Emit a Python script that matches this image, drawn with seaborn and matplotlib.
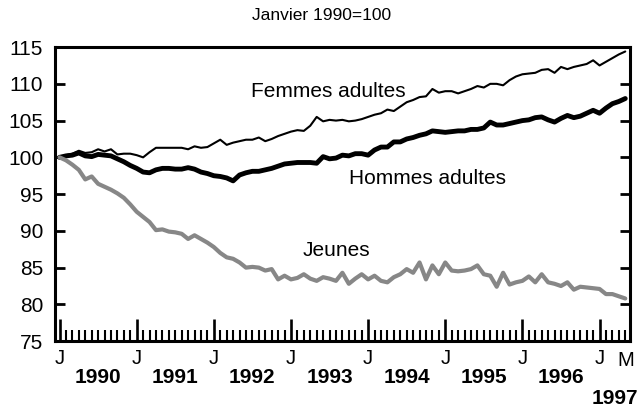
import numpy as np
import pandas as pd
import matplotlib
matplotlib.use("Agg")
import matplotlib.pyplot as plt
import seaborn as sns

# Monthly index, Jan 1990 = 100 (Jan 1990 .. May 1997)
femmes = [100.0, 100.3, 100.5, 100.9, 100.6, 100.7, 101.1, 100.8, 101.1, 100.4, 100.5, 100.5,
          100.3, 100.0, 100.7, 101.3, 101.3, 101.3, 101.3, 101.3, 101.1, 101.5, 101.3, 101.4,
          101.9, 102.4, 101.7, 102.0, 102.2, 102.4, 102.4, 102.7, 102.2, 102.5, 102.9, 103.2,
          103.5, 103.7, 103.6, 104.3, 105.5, 104.9, 105.1, 105.0, 105.1, 104.9, 105.0, 105.2,
          105.5, 105.8, 106.0, 106.5, 106.3, 106.9, 107.5, 107.8, 108.2, 108.3, 109.3, 108.8,
          109.0, 109.0, 108.7, 109.0, 109.3, 109.7, 109.5, 110.0, 110.0, 109.8, 110.5, 111.0,
          111.3, 111.4, 111.5, 111.9, 112.0, 111.5, 112.3, 112.0, 112.3, 112.5, 112.7, 113.2,
          112.5, 113.0, 113.5, 114.0, 114.4]
hommes = [100.0, 100.2, 100.3, 100.6, 100.2, 100.1, 100.4, 100.3, 100.2, 99.8, 99.4, 98.9,
          98.5, 98.0, 97.9, 98.3, 98.5, 98.5, 98.4, 98.4, 98.6, 98.4, 98.0, 97.8,
          97.5, 97.4, 97.2, 96.8, 97.6, 97.9, 98.1, 98.1, 98.3, 98.5, 98.8, 99.1,
          99.2, 99.3, 99.3, 99.3, 99.2, 100.1, 99.8, 99.9, 100.3, 100.2, 100.5, 100.5,
          100.3, 101.0, 101.4, 101.4, 102.1, 102.1, 102.5, 102.7, 103.0, 103.2, 103.6, 103.5,
          103.4, 103.5, 103.6, 103.6, 103.8, 103.8, 104.0, 104.8, 104.4, 104.4, 104.6, 104.8,
          105.0, 105.1, 105.4, 105.5, 105.1, 104.8, 105.3, 105.7, 105.4, 105.6, 106.0, 106.4,
          106.0, 106.7, 107.3, 107.6, 108.0]
jeunes = [100.0, 99.6, 99.0, 98.3, 97.0, 97.4, 96.4, 96.0, 95.6, 95.1, 94.5, 93.6,
          92.6, 91.9, 91.2, 90.1, 90.2, 89.9, 89.8, 89.6, 88.9, 89.4, 88.9, 88.4,
          87.8, 87.0, 86.4, 86.2, 85.7, 85.0, 85.1, 85.0, 84.6, 84.8, 83.4, 83.9,
          83.4, 83.6, 84.1, 83.5, 83.2, 83.7, 83.5, 83.2, 84.3, 82.8, 83.5, 84.1,
          83.4, 83.9, 83.2, 83.0, 83.7, 84.1, 84.8, 84.3, 85.7, 83.4, 85.3, 84.1,
          85.7, 84.6, 84.5, 84.6, 84.8, 85.3, 84.1, 83.9, 82.4, 84.3, 82.7, 83.0,
          83.2, 83.8, 83.0, 84.1, 83.0, 82.8, 82.5, 83.0, 82.0, 82.4, 82.3, 82.2,
          82.1, 81.4, 81.4, 81.1, 80.8]
years = ["1990", "1991", "1992", "1993", "1994", "1995", "1996"]

months = np.arange(len(femmes))

sns.set_style("white")
plt.rcParams["font.family"] = ["Liberation Sans", "DejaVu Sans"]
plt.rcParams["text.color"] = "black"
plt.rcParams["xtick.color"] = "black"
plt.rcParams["ytick.color"] = "black"

fig = plt.figure(figsize=(6.4, 4.13), dpi=100)
ax = fig.add_axes([0.086, 0.174, 0.898, 0.712])

sns.lineplot(x=months, y=femmes, ax=ax, color="black", linewidth=1.5)
sns.lineplot(x=months, y=hommes, ax=ax, color="black", linewidth=3.5)
sns.lineplot(x=months, y=jeunes, ax=ax, color="#878787", linewidth=3.0)

ax.set_xlim(-0.7, 88.7)
ax.set_ylim(75, 115)
ax.set_yticks(range(75, 116, 5))
ax.set_xticks(range(0, 85, 12))
ax.set_xticklabels(["J"] * 8)
ax.set_xticks(months, minor=True)

for s in ax.spines.values():
    s.set_linewidth(2.2)
    s.set_color("black")

ax.tick_params(axis="x", which="major", direction="in", length=16, width=1.9,
               labelsize=14.5, pad=6, bottom=True)
ax.tick_params(axis="x", which="minor", direction="in", length=8, width=1.5, bottom=True)
ax.tick_params(axis="y", direction="in", length=7, width=2, left=True, right=True,
               labelsize=15, pad=8.5)

# year labels under the axis
for i, yr in enumerate(years):
    ax.text(6 + 12 * i, -0.125, yr, transform=ax.get_xaxis_transform(),
            ha="center", va="center", fontsize=15, fontweight="bold")
ax.text(88, -0.0655, "M", transform=ax.get_xaxis_transform(),
        ha="center", va="center", fontsize=14.5)
fig.text(638 / 640, 1 - 399 / 413, "1997", ha="right", va="center",
         fontsize=15, fontweight="bold")

ax.text(41.8, 108.9, "Femmes adultes", ha="center", va="center", fontsize=15)
ax.text(57.2, 97.1, "Hommes adultes", ha="center", va="center", fontsize=15)
ax.text(43, 87.3, "Jeunes", ha="center", va="center", fontsize=15)

fig.text(0.502, 1 - 15 / 413, "Janvier 1990=100", ha="center", va="center", fontsize=12.5)

ax.set_xlabel("")
ax.set_ylabel("")
fig.savefig("out.png", dpi=100)
